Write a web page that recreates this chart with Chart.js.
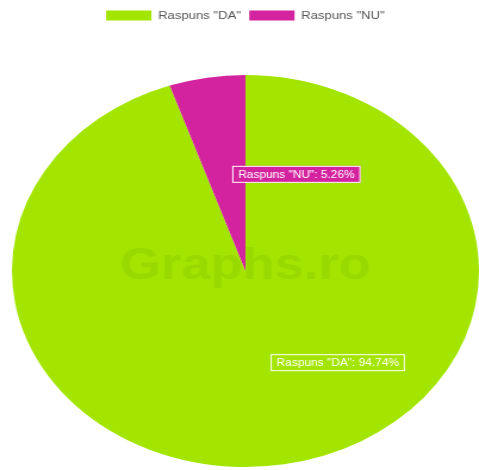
<!DOCTYPE html>
<html lang="ro">
  <head>
    <meta charset="UTF-8" />
    <title>Raspuns DA / NU</title>
    <script src="https://cdn.jsdelivr.net/npm/chart.js"></script>
    <style>
      body { margin: 0; background: #fff; }
      #wrap {
        width: 402px;
        height: 470px;
        transform: scaleX(1.1915);
        transform-origin: 0 0;
      }
    </style>
  </head>
  <body>
    <div id="wrap"><canvas id="pieChart" width="402" height="470"></canvas></div>

    <script>
      const labels = ['Raspuns "DA"', 'Raspuns "NU"'];
      const values = [94.74, 5.26];
      const colors = ["#a3e500", "#d4239f"];

      // extra gap under the legend
      const legendGap = {
        id: "legendGap",
        beforeInit(chart) {
          const fit = chart.legend.fit;
          chart.legend.fit = function () {
            fit.bind(chart.legend)();
            this.height += 43;
          };
        },
      };

      // watermark + slice labels drawn on top of the arcs
      const sliceLabels = {
        id: "sliceLabels",
        afterDatasetsDraw(chart) {
          const ctx = chart.ctx;
          const a = chart.chartArea;
          ctx.save();
          ctx.font = "bold 44px 'Liberation Sans', Arial, sans-serif";
          ctx.fillStyle = "rgba(60, 130, 0, 0.1)";
          ctx.textAlign = "center";
          ctx.textBaseline = "middle";
          ctx.fillText("Graphs.ro", (a.left + a.right) / 2, (a.top + a.bottom) / 2 - 4);

          const meta = chart.getDatasetMeta(0);
          ctx.font = "10px 'Liberation Sans', Arial, sans-serif";
          ctx.textAlign = "left";
          meta.data.forEach((arc, i) => {
            const p = arc.tooltipPosition();
            const text = labels[i] + ": " + values[i].toFixed(2) + "%";
            const w = ctx.measureText(text).width + 10;
            const h = 17;
            const x = p.x + 5;
            const y = p.y - h / 2 - (i === 0 ? 5 : 0);
            ctx.fillStyle = colors[i];
            ctx.fillRect(x, y, w, h);
            ctx.strokeStyle = "#fff";
            ctx.lineWidth = 1;
            ctx.strokeRect(x + 0.5, y + 0.5, w - 1, h - 1);
            ctx.fillStyle = "#fff";
            ctx.fillText(text, x + 5, y + h / 2 + 1);
          });
          ctx.restore();
        },
      };

      new Chart(document.getElementById("pieChart"), {
        type: "pie",
        data: {
          labels: labels,
          datasets: [
            {
              data: values,
              backgroundColor: colors,
              borderWidth: 0,
            },
          ],
        },
        options: {
          responsive: false,
          devicePixelRatio: 1,
          animation: false,
          layout: { padding: { top: 3, bottom: 2, left: 10 } },
          plugins: {
            legend: {
              position: "top",
              labels: {
                boxWidth: 38,
                boxHeight: 10,
                padding: 7,
                color: "#555",
                font: { size: 11, family: "'Liberation Sans', Arial, sans-serif" },
              },
            },
            tooltip: { enabled: false },
          },
        },
        plugins: [legendGap, sliceLabels],
      });
    </script>
  </body>
</html>
